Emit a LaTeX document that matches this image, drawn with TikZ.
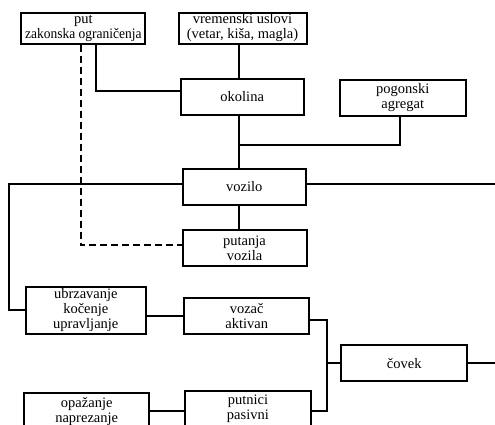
\documentclass[tikz,border=0pt]{standalone}
\usepackage{fontspec}
\setmainfont{Liberation Serif}
\newfontfamily\srpfont{Liberation Serif}
\usepackage{tikz}

\begin{document}
\begin{tikzpicture}[x=1pt,y=-1pt,
  blok/.style={draw,line width=2pt,align=center,inner sep=0pt,font=\srpfont\fontsize{14.5}{15}\selectfont},
  veza/.style={line width=1.8pt},
  isprek/.style={veza,dash pattern=on 7pt off 4pt}]
\useasboundingbox (0,0) rectangle (495,424);
\clip (0,0) rectangle (495,424);

\node[blok,minimum width=124pt,minimum height=31pt] (PUT) at (83.3,28.2) {put\\\scalebox{0.93}[1]{zakonska ograničenja}};
\node[blok,minimum width=128pt,minimum height=31pt] (VRE) at (242.5,28) {vremenski uslovi\\(vetar, kiša, magla)};
\node[blok,minimum width=123pt,minimum height=36pt] (OKO) at (242.2,96.7) {okolina};
\node[blok,minimum width=126pt,minimum height=36pt] (POG) at (402.8,98) {pogonski\\agregat};
\node[blok,minimum width=123pt,minimum height=36pt] (VOZ) at (244.2,187) {vozilo};
\node[blok,minimum width=124pt,minimum height=36pt] (PTJ) at (244.5,248.2) {putanja\\vozila};
\node[blok,minimum width=120pt,minimum height=47pt] (UBR) at (85.8,310.3) {ubrzavanje\\kočenje\\upravljanje};
\node[blok,minimum width=125pt,minimum height=36pt] (VOZAC) at (246.7,315.8) {vozač\\aktivan};
\node[blok,minimum width=126pt,minimum height=36pt] (COV) at (404.2,363.2) {čovek};
\node[blok,minimum width=125pt,minimum height=37pt] (OPA) at (86.7,411) {opažanje\\naprezanje};
\node[blok,minimum width=126pt,minimum height=37pt] (PUTN) at (247.9,409.2) {putnici\\pasivni};

\coordinate (K1) at (96,91);
\coordinate (S) at (239,145);
\coordinate (L) at (9,184.3);
\coordinate (D) at (495,184.3);
\coordinate (C) at (81,245.3);
\coordinate (B1) at (326.7,320.3);
\coordinate (B2) at (326.7,411);

\draw[veza] (PUT.south -| K1) -- (K1) -- (OKO.west |- K1);
\draw[veza] (VRE.south -| S) -- (OKO.north -| S);
\draw[veza] (OKO.south -| S) -- (VOZ.north -| S);
\draw[veza] (S) -| (POG.south -| 400,0);
\draw[veza] (VOZ.south -| S) -- (PTJ.north -| S);
\draw[isprek] (PUT.south -| C) -- (C) -- (PTJ.west |- C);
\draw[veza] (VOZ.west |- L) -- (L) |- (UBR.west);
\draw[veza] (VOZ.east |- D) -- (D);
\draw[veza] (UBR.east |- VOZAC.west) -- (VOZAC.west);
\draw[veza] (VOZAC.east |- B1) -- (B1) -- (B2) -- (PUTN.east |- B2);
\draw[veza] (B1 |- COV.west) -- (COV.west);
\draw[veza] (COV.east) -- (COV.east -| D);
\draw[veza] (OPA.east |- B2) -- (PUTN.west |- B2);
\end{tikzpicture}
\end{document}
